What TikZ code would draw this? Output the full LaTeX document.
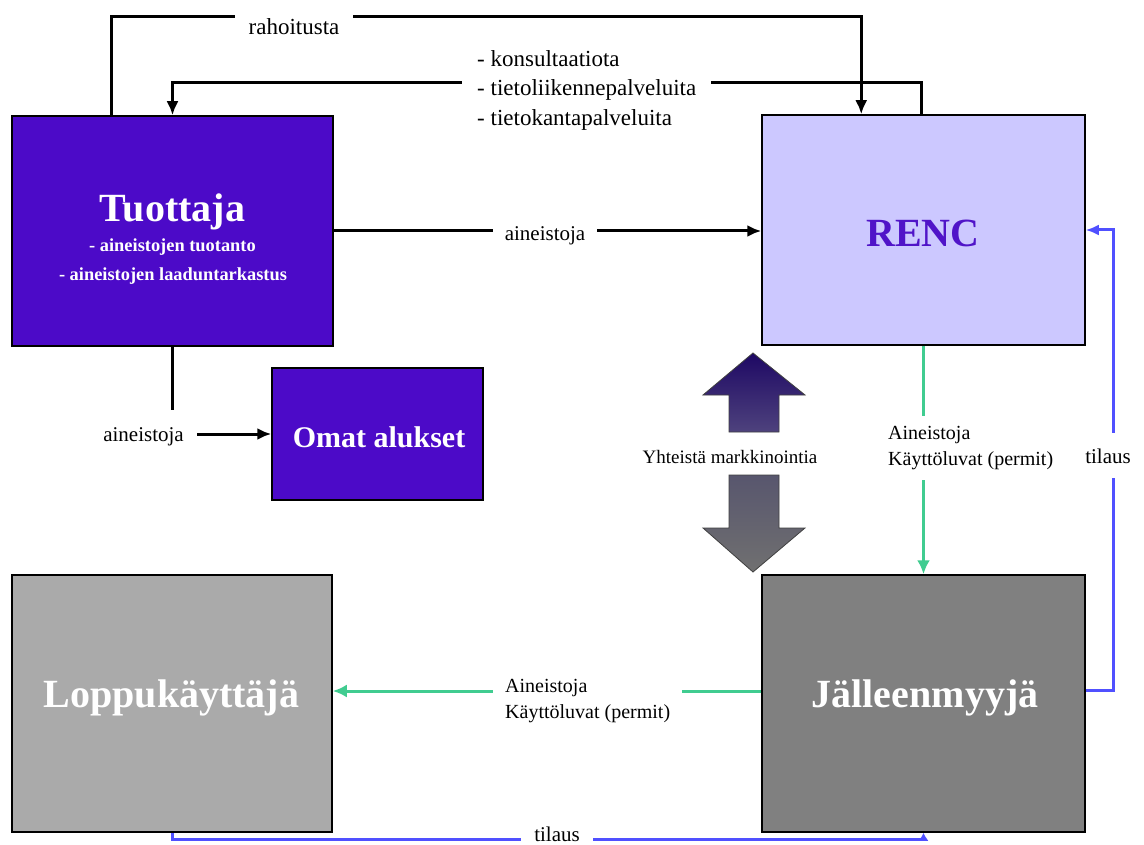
\documentclass[tikz,border=0pt]{standalone}
\usepackage{fontspec}
\setmainfont{Liberation Serif}
\usetikzlibrary{arrows.meta,calc}
\definecolor{tuoc}{RGB}{76,10,200}
\definecolor{rencc}{RGB}{204,200,255}
\definecolor{renct}{RGB}{80,20,200}
\definecolor{loppuc}{RGB}{170,170,170}
\definecolor{jallc}{RGB}{128,128,128}
\definecolor{grn}{RGB}{64,204,144}
\definecolor{blu}{RGB}{80,80,255}
\definecolor{upt}{RGB}{30,8,100}
\definecolor{upb}{RGB}{78,66,125}
\definecolor{dnt}{RGB}{88,86,110}
\definecolor{dnb}{RGB}{112,112,112}
\begin{document}
\begin{tikzpicture}[x=1pt,y=-1pt,
  box/.style={draw=black, line width=1.5pt, inner sep=0pt},
  conn/.style={line width=3pt},
  blk/.style={conn, draw=black, -{Latex[length=14pt,width=12pt]}},
  grnl/.style={conn, draw=grn, -{Latex[length=14pt,width=13pt]}},
  blul/.style={conn, draw=blu, -{Latex[length=13pt,width=11pt]}},
  bluls/.style={conn, draw=blu, -{Latex[length=8pt,width=10pt]}},
  big/.style={text=white, font=\bfseries\fontsize{40}{44}\selectfont, inner sep=0pt},
  sub/.style={text=white, font=\bfseries\fontsize{18.4}{22}\selectfont, inner sep=0pt},
  lbl/.style={fill=white, text=black, inner ysep=3pt},
  top/.style={font=\fontsize{23}{29}\selectfont},
  mid/.style={font=\fontsize{21}{26}\selectfont},
  two/.style={font=\fontsize{20}{26}\selectfont, align=left},
  bigarrow/.style={draw=black!75, line width=0.8pt}
]
\useasboundingbox (0,0) rectangle (1144,845);
\fill[white] (0,0) rectangle (1144,845);

% boxes
\node[box, fill=tuoc, minimum width=321pt, minimum height=230pt] (tuo) at (172.5,231) {};
\node[box, fill=rencc, minimum width=323pt, minimum height=230pt] (renc) at (923.5,230) {};
\node[box, fill=tuoc, minimum width=211pt, minimum height=132pt] (omat) at (377.5,434) {};
\node[box, fill=loppuc, minimum width=320pt, minimum height=257pt] (loppu) at (172,703.5) {};
\node[box, fill=jallc, minimum width=323pt, minimum height=257pt] (jall) at (923.5,703.5) {};

% box texts
\node[big, anchor=base] (tuoT) at (172.5,222) {Tuottaja};
\node[sub, anchor=base] (tuo1) at (172.5,252) {- aineistojen tuotanto};
\node[sub, anchor=base] (tuo2) at (173,280) {- aineistojen laaduntarkastus};
\node[big, text=renct, anchor=base] (rencT) at (923,247) {RENC};
\node[big, font=\bfseries\fontsize{30}{34}\selectfont, anchor=base] (omatT) at (379,447) {Omat alukset};
\node[big, anchor=base] (loppuT) at (171.5,707) {Loppukäyttäjä};
\node[big, anchor=base] (jallT) at (925,707) {Jälleenmyyjä};

% connectors
\draw[blk] ([xshift=100pt]tuo.north west) -- ++(0,-99) -| ([xshift=100pt]renc.north west);
\draw[blk] ([xshift=160pt]renc.north west) -- ++(0,-32) -| (tuo.north);
\draw[blk] (tuo.east) -- (tuo.east -| renc.west);
\draw[blk] (tuo.south) |- (omat.west);
\draw[grnl] (renc.south) -- (jall.north);
\draw[blul] ([yshift=13.5pt]jall.east) -- ++(28,0) |- (renc.east);
\draw[grnl] ([yshift=12.5pt]jall.west) -- ([yshift=12.5pt]loppu.east);
\draw[bluls] (loppu.south) -- ++(0,7) -| (jall.south);

% labels
\node[lbl, top, anchor=base, inner xsep=14pt, inner ysep=5pt] (rah) at (294,35) {rahoitusta};
\node[top, anchor=base west, inner sep=0pt] (ser1) at (477,67) {- konsultaatiota};
\node[lbl, top, anchor=base west, inner xsep=15pt] (ser2) at (462,96) {- tietoliikennepalveluita};
\node[top, anchor=base west, inner sep=0pt] (ser3) at (477,126) {- tietokantapalveluita};
\node[lbl, mid, anchor=base, inner xsep=12pt] (ain1) at (545,241) {aineistoja};
\node[lbl, mid, anchor=base, inner xsep=13pt, inner ysep=17pt] (ain2) at (143.5,441) {aineistoja};
\node[lbl, two, anchor=west, inner xsep=2pt, inner ysep=10pt] (gv) at (886,448) {Aineistoja\\Käyttöluvat (permit)};
\node[lbl, mid, anchor=base, inner xsep=2pt, inner ysep=15pt] (til1) at (1108,463) {tilaus};
\node[lbl, two, anchor=west, inner xsep=12pt] (gh) at (493,701) {Aineistoja\\Käyttöluvat (permit)};
\node[lbl, mid, anchor=base, inner xsep=13pt, inner ysep=1pt] (til2) at (557,841) {tilaus};
\node[font=\fontsize{19}{24}\selectfont, anchor=base, inner sep=0pt] (mark) at (730,463) {Yhteistä markkinointia};

% big double arrow
\shade[bigarrow, top color=upt, bottom color=upb] (753,353) -- (805,395) -- (779,395) -- (779,432) -- (729,432) -- (729,395) -- (703,395) -- cycle;
\shade[bigarrow, top color=dnt, bottom color=dnb] (729,475) -- (779,475) -- (779,528) -- (805,528) -- (753,572) -- (703,528) -- (729,528) -- cycle;
\end{tikzpicture}
\end{document}
